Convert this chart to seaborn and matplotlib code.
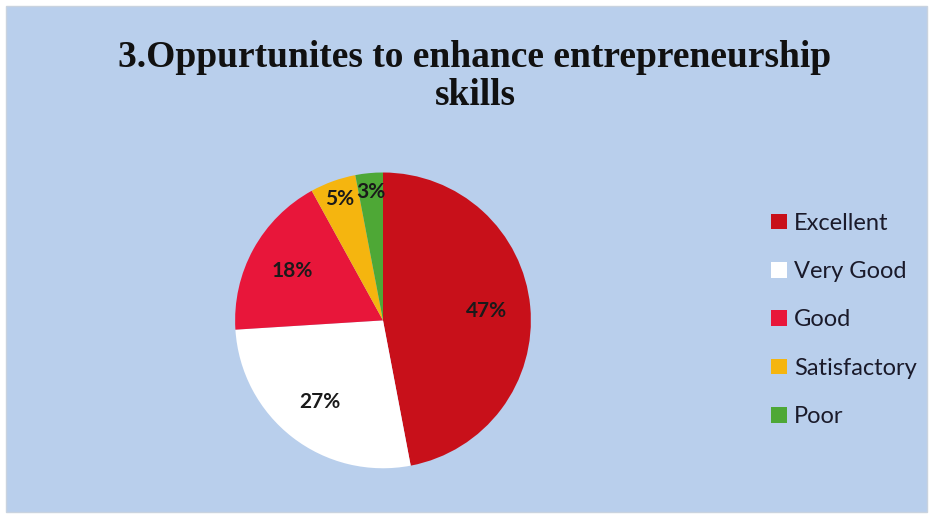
import matplotlib
matplotlib.use('Agg')
import matplotlib.pyplot as plt
import seaborn as sns
from matplotlib.patches import Rectangle

# Survey results
categories = ['Excellent', 'Very Good', 'Good', 'Satisfactory', 'Poor']
shares = [47, 27, 18, 5, 3]
colors = ['#c8101a', '#ffffff', '#e8163a', '#f5b50f', '#4ea836']
title = '3.Oppurtunites to enhance entrepreneurship\nskills'

sns.set_theme(style='white')
plt.rcParams['font.family'] = ['Lato', 'DejaVu Sans']

bg = '#b9cfec'
fig = plt.figure(figsize=(9.33, 5.18), dpi=100)
fig.patch.set_facecolor('white')
fig.patches.append(Rectangle((0.006, 0.012), 0.988, 0.976, transform=fig.transFigure,
                             facecolor=bg, edgecolor='#c9d3df', lw=1, zorder=-1))

ax = fig.add_axes([0.252, 0.096, 0.317, 0.571])
ax.set_zorder(2)
wedges, texts, autotexts = ax.pie(shares, colors=colors, startangle=90, counterclock=False,
                                  autopct='%1.0f%%', pctdistance=0.7,
                                  wedgeprops=dict(edgecolor='none'),
                                  textprops=dict(fontsize=15, fontweight='bold', color='#1a1a1a'))
# push labels of the thin slices further out like the original
for t, v in zip(autotexts, shares):
    if v < 10:
        x, y = t.get_position()
        t.set_position((x * 1.25, y * 1.25))
ax.set_xlim(-1, 1)
ax.set_ylim(-1, 1)
ax.set_aspect('equal')
ax.axis('off')

leg = fig.legend(wedges, categories, loc='upper left', bbox_to_anchor=(0.804, 0.630),
                 frameon=False, fontsize=17, handlelength=0.65, handleheight=0.65,
                 handletextpad=0.3, labelspacing=1.155, labelcolor='#1a1a2a')
for h in leg.legend_handles:
    h.set_edgecolor('none')

fig.text(0.509, 0.781, title, ha='center', va='bottom', fontsize=27, fontweight='bold',
         family='Liberation Serif', color='#111111', linespacing=1.12)

fig.savefig('out.png', dpi=100, facecolor=fig.get_facecolor())
